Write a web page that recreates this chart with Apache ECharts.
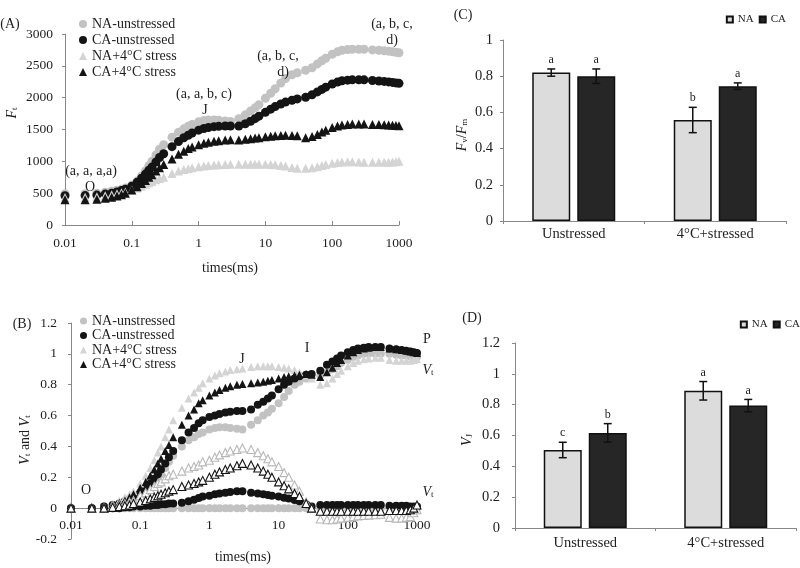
<!DOCTYPE html>
<html lang="en">
<head>
<meta charset="UTF-8">
<title>OJIP transients, Fv/Fm and VJ</title>
<style>
  html,body{margin:0;padding:0;background:#fff;}
  #main{width:800px;height:568px;}
</style>
</head>
<body>
<div id="main"></div>
<script src="https://cdn.jsdelivr.net/npm/echarts@6.0.0/dist/echarts.min.js"></script>
<script>
// time points (ms), shared by panels A and B
var TIME = [0.01,0.02,0.03,0.04,0.05,0.06,0.07,0.08,
  0.1,0.12,0.14,0.16,0.18,0.2,0.23,0.26,0.3,
  0.4,0.5,0.6,0.7,0.8,1,1.2,1.4,1.7,2,2.5,3,
  4,5,6,7,8,10,12,14,17,20,25,30,
  40,50,60,70,80,100,120,140,170,200,250,300,
  400,500,600,700,800,900,1000];

// (A) Ft
var ftNAu = [490,490,500,515,530,545,560,580,
  630,690,770,850,930,1000,1100,1190,1260,
  1380,1455,1510,1550,1580,1620,1640,1650,1650,1645,1635,1625,
  1670,1730,1790,1840,1890,1990,2070,2140,2230,2300,2360,2390,
  2430,2470,2530,2580,2620,2680,2720,2745,2755,2760,2760,2760,
  2750,2745,2735,2730,2720,2712,2705];
var ftCAu = [460,462,470,485,500,520,540,560,
  610,670,735,800,860,910,990,1060,1120,
  1230,1310,1370,1410,1445,1490,1515,1530,1545,1550,1555,1555,
  1555,1590,1630,1670,1710,1770,1820,1860,1900,1930,1960,1980,
  2005,2045,2090,2130,2165,2215,2245,2265,2275,2280,2280,2280,
  2270,2262,2255,2248,2240,2232,2225];
var ftNA4 = [430,435,445,460,475,490,505,520,
  550,580,610,640,665,685,710,730,750,
  810,850,870,885,900,915,925,935,942,948,952,955,
  955,955,955,955,955,955,950,945,935,925,905,890,
  890,900,915,935,950,970,980,988,993,995,990,985,
  985,985,985,985,990,995,1000];
var ftCA4 = [395,395,405,420,435,455,475,500,
  550,600,650,700,750,790,850,900,950,
  1035,1110,1160,1200,1225,1260,1285,1300,1315,1325,1335,1340,
  1335,1345,1355,1365,1372,1385,1395,1400,1405,1408,1405,1400,
  1370,1390,1420,1460,1490,1530,1555,1570,1580,1585,1588,1588,
  1580,1578,1575,1570,1565,1562,1560];

// (B) Vt
var vtNAu = [0,0,0.01,0.02,0.03,0.04,0.05,0.06,
  0.08,0.1,0.13,0.16,0.19,0.22,0.26,0.3,0.34,
  0.4,0.44,0.46,0.48,0.49,0.51,0.52,0.525,0.525,0.52,0.515,0.51,
  0.54,0.57,0.6,0.62,0.645,0.68,0.72,0.76,0.8,0.82,0.84,0.85,
  0.86,0.88,0.9,0.92,0.94,0.96,0.98,0.99,1,1,1,1,
  1,0.995,0.99,0.99,0.985,0.98,0.98];
var vtCAu = [0,0,0.01,0.02,0.03,0.045,0.06,0.075,
  0.1,0.13,0.16,0.19,0.22,0.25,0.29,0.33,0.37,
  0.44,0.49,0.52,0.55,0.57,0.59,0.6,0.61,0.62,0.625,0.63,0.63,
  0.64,0.67,0.69,0.71,0.73,0.77,0.8,0.82,0.84,0.855,0.865,0.87,
  0.89,0.93,0.95,0.97,0.99,1.01,1.025,1.035,1.04,1.045,1.045,1.045,
  1.035,1.03,1.025,1.02,1.015,1.01,1.005];
var vtNA4 = [0,0,0.01,0.03,0.05,0.07,0.09,0.11,
  0.16,0.21,0.26,0.31,0.36,0.4,0.46,0.51,0.57,
  0.65,0.71,0.75,0.78,0.81,0.84,0.86,0.875,0.885,0.895,0.9,0.905,
  0.915,0.92,0.92,0.92,0.92,0.915,0.91,0.905,0.895,0.88,0.86,0.84,
  0.8,0.81,0.84,0.87,0.89,0.92,0.94,0.955,0.965,0.97,0.975,0.975,
  0.96,0.955,0.955,0.955,0.955,0.96,0.965];
var vtCA4 = [0,0,0.01,0.02,0.035,0.05,0.07,0.09,
  0.13,0.17,0.21,0.25,0.29,0.32,0.37,0.41,0.46,
  0.54,0.6,0.64,0.68,0.7,0.73,0.75,0.765,0.78,0.79,0.8,0.805,
  0.81,0.815,0.82,0.825,0.83,0.84,0.85,0.855,0.86,0.865,0.87,0.865,
  0.85,0.88,0.91,0.94,0.96,0.99,1.01,1.025,1.035,1.04,1.045,1.045,
  1.035,1.03,1.025,1.02,1.015,1.01,1.005];

// (B) difference curves
var dvNAu = [0,0,0,0,0,0,0,0,
  0,0,0,0,0,0,0,0,0,
  0,0,0,0,0,0,0,0,0,0,0,0,
  0,0,0,0,0,0,0,0,0,0,0,0,
  0,0,0,0,0,0,0,0,0,0,0,0,
  0,0,0,0,0,0,0];
var dvCAu = [0,0,0,0,0,0.005,0.005,0.01,
  0.01,0.015,0.015,0.02,0.02,0.025,0.025,0.03,0.03,
  0.035,0.045,0.055,0.065,0.075,0.08,0.09,0.095,0.1,0.105,0.11,0.11,
  0.1,0.095,0.09,0.085,0.08,0.075,0.068,0.062,0.053,0.045,0.025,0.01,
  0.02,0.02,0.02,0.02,0.02,0.02,0.02,0.02,0.02,0.02,0.02,0.02,
  0.015,0.015,0.015,0.015,0.01,0.01,0.01];
var dvNA4 = [0,0,0,0.01,0.02,0.03,0.04,0.05,
  0.08,0.1,0.12,0.14,0.16,0.17,0.19,0.21,0.22,
  0.24,0.26,0.27,0.28,0.3,0.31,0.33,0.345,0.36,0.37,0.38,0.39,
  0.38,0.36,0.34,0.32,0.3,0.27,0.23,0.2,0.15,0.11,0.04,0,
  -0.07,-0.075,-0.075,-0.07,-0.065,-0.06,-0.055,-0.05,-0.048,-0.045,-0.043,-0.04,
  -0.06,-0.065,-0.065,-0.06,-0.055,-0.03,-0.01];
var dvCA4 = [0,0,0,0.005,0.01,0.015,0.02,0.03,
  0.04,0.05,0.06,0.07,0.08,0.09,0.1,0.11,0.12,
  0.14,0.15,0.16,0.17,0.18,0.2,0.22,0.235,0.25,0.26,0.275,0.29,
  0.28,0.26,0.24,0.22,0.2,0.17,0.145,0.125,0.095,0.075,0.03,0,
  -0.02,-0.02,-0.02,-0.02,-0.02,-0.02,-0.02,-0.02,-0.02,-0.02,-0.02,-0.02,
  -0.015,-0.015,-0.015,-0.015,-0.01,0,0.02];

// (C) Fv/Fm and (D) VJ
var groups = ['Unstressed', '4°C+stressed'];
var fvfmNA = [0.82, 0.558], fvfmNAErr = [0.02, 0.07], fvfmNALet = ['a', 'b'];
var fvfmCA = [0.80, 0.745], fvfmCAErr = [0.04, 0.018], fvfmCALet = ['a', 'a'];
var vjNA = [0.506, 0.89], vjNAErr = [0.05, 0.06], vjNALet = ['c', 'a'];
var vjCA = [0.617, 0.794], vjCAErr = [0.06, 0.04], vjCALet = ['b', 'a'];

var lineNames = ['NA-unstressed', 'CA-unstressed', 'NA+4°C stress', 'CA+4°C stress'];

var FONT = '"Liberation Serif", "Times New Roman", serif';
var AXIS_C = '#888';
var TXT_C = '#1e1e1e';
var LGRAY = '#c2c2c2', XGRAY = '#d4d4d4', BLACK = '#141414';
var BAR_W = 38, BAR_GAP = 7, CAP = 4;

function pts(vals) {
  return TIME.map(function (t, i) { return [t, vals[i]]; });
}

function plain(v) {
  return String(parseFloat(Number(v).toPrecision(6)));
}

function scat(name, vals, ax, symbol, size, color, border) {
  var s = {
    name: name, type: 'scatter', xAxisIndex: ax, yAxisIndex: ax,
    symbol: symbol, symbolSize: size, data: pts(vals),
    itemStyle: {color: color, opacity: 1}
  };
  if (border) {
    s.itemStyle.borderColor = border;
    s.itemStyle.borderWidth = 1.1;
  }
  return s;
}

function logAxis(grid, margin) {
  return {
    type: 'log', logBase: 10, min: 0.01, max: 1000, gridIndex: grid,
    axisLine: {show: true, onZero: true, lineStyle: {color: AXIS_C}},
    axisTick: {show: true, inside: true, length: 4, lineStyle: {color: AXIS_C}},
    minorTick: {show: false},
    axisLabel: {color: TXT_C, fontFamily: FONT, fontSize: 13.5, margin: margin, formatter: plain},
    splitLine: {show: false}
  };
}

function valAxis(grid, min, max, step, margin, fs) {
  return {
    type: 'value', gridIndex: grid, min: min, max: max, interval: step,
    axisLine: {show: true, lineStyle: {color: AXIS_C}},
    axisTick: {show: true, length: 3, lineStyle: {color: AXIS_C}},
    axisLabel: {color: TXT_C, fontFamily: FONT, fontSize: fs, margin: margin, formatter: plain},
    splitLine: {show: false}
  };
}

function catAxis(grid, margin) {
  return {
    type: 'category', gridIndex: grid, data: groups,
    axisLine: {show: true, lineStyle: {color: AXIS_C}},
    axisTick: {show: true, length: 3, lineStyle: {color: AXIS_C}},
    axisLabel: {color: TXT_C, fontFamily: FONT, fontSize: 14.5, margin: margin}
  };
}

function bars(name, vals, ax, fill) {
  return {
    name: name, type: 'bar', xAxisIndex: ax, yAxisIndex: ax, data: vals,
    barWidth: BAR_W, barGap: (BAR_GAP / BAR_W * 100) + '%',
    itemStyle: {color: fill, borderColor: '#111', borderWidth: 1.5}
  };
}

function errs(name, vals, err, letters, ax, side) {
  return {
    name: name, type: 'custom', xAxisIndex: ax, yAxisIndex: ax,
    data: vals.map(function (v, i) { return [i, v, err[i]]; }),
    encode: {x: 0, y: 1}, z: 5,
    renderItem: function (params, api) {
      var i = api.value(0), m = api.value(1), e = api.value(2);
      var x = api.coord([i, m])[0] + side * (BAR_W + BAR_GAP) / 2;
      var yt = api.coord([i, m + e])[1];
      var yb = api.coord([i, m - e])[1];
      var st = {stroke: '#111', lineWidth: 1.5};
      return {type: 'group', children: [
        {type: 'line', shape: {x1: x, y1: yt, x2: x, y2: yb}, style: st},
        {type: 'line', shape: {x1: x - CAP, y1: yt, x2: x + CAP, y2: yt}, style: st},
        {type: 'line', shape: {x1: x - CAP, y1: yb, x2: x + CAP, y2: yb}, style: st},
        {type: 'text', x: x, y: yt - 3, style: {text: letters[params.dataIndex], fill: TXT_C,
          font: '12px ' + FONT, align: 'center', verticalAlign: 'bottom'}}
      ]};
    }
  };
}

var sub = {
  i: {fontStyle: 'italic', fontFamily: FONT, fontSize: 14, fill: TXT_C},
  s: {fontFamily: FONT, fontSize: 9, fill: TXT_C, verticalAlign: 'bottom', padding: [5, 0, 0, 0]}
};

function txt(s, x, y, rot) {
  var g = {type: 'text', x: x, y: y, z: 10,
    style: {text: s, fill: TXT_C, font: '14px ' + FONT, align: 'center', verticalAlign: 'middle', rich: sub}};
  if (rot) g.rotation = Math.PI / 2;
  return g;
}

var chart = echarts.init(document.getElementById('main'));

var option = {
  animation: false,
  backgroundColor: '#fff',
  grid: [
    {left: 65, top: 34, width: 334, height: 191, outerBoundsMode: 'none'},
    {left: 71, top: 323, width: 346, height: 216, outerBoundsMode: 'none'},
    {left: 503, top: 40, width: 283, height: 181, outerBoundsMode: 'none'},
    {left: 515, top: 343, width: 281, height: 185, outerBoundsMode: 'none'}
  ],
  // panel B labels sit just under the zero line, so pull them up from the grid edge
  xAxis: [logAxis(0, 11), logAxis(1, -21), catAxis(2, 6), catAxis(3, 8)],
  yAxis: [
    valAxis(0, 0, 3000, 500, 12, 13.5),
    valAxis(1, -0.2, 1.2, 0.2, 14, 13.5),
    valAxis(2, 0, 1, 0.2, 10, 14.5),
    valAxis(3, 0, 1.2, 0.2, 15, 14.5)
  ],
  legend: [
    {orient: 'vertical', left: 79, top: 17, padding: 0, itemWidth: 8, itemHeight: 8, itemGap: 2,
      data: lineNames, textStyle: {fontFamily: FONT, fontSize: 14, lineHeight: 14, color: TXT_C}},
    {orient: 'vertical', left: 80, top: 314, padding: 0, itemWidth: 7, itemHeight: 7, itemGap: 0.5,
      data: lineNames, textStyle: {fontFamily: FONT, fontSize: 14, lineHeight: 14, color: TXT_C}},
    {orient: 'horizontal', right: 14, top: 14, padding: 0, itemWidth: 6, itemHeight: 6, itemGap: 5, icon: 'rect',
      data: ['NA', 'CA'], textStyle: {fontFamily: FONT, fontSize: 11, color: TXT_C}},
    {orient: 'horizontal', right: 0, top: 319, padding: 0, itemWidth: 6, itemHeight: 6, itemGap: 5, icon: 'rect',
      data: ['NA', 'CA'], textStyle: {fontFamily: FONT, fontSize: 11, color: TXT_C}}
  ],
  series: [
    scat(lineNames[0], ftNAu, 0, 'circle', 9, LGRAY),
    scat(lineNames[1], ftCAu, 0, 'circle', 9, BLACK),
    scat(lineNames[2], ftNA4, 0, 'triangle', 9, XGRAY),
    scat(lineNames[3], ftCA4, 0, 'triangle', 9, BLACK),

    scat(lineNames[0], vtNAu, 1, 'circle', 8, LGRAY),
    scat(lineNames[1], vtCAu, 1, 'circle', 8, BLACK),
    scat(lineNames[2], vtNA4, 1, 'triangle', 8, XGRAY),
    scat(lineNames[3], vtCA4, 1, 'triangle', 8, BLACK),
    scat('dV NA-unstressed', dvNAu, 1, 'circle', 8, LGRAY),
    scat('dV CA-unstressed', dvCAu, 1, 'circle', 8, BLACK),
    scat('dV NA+4°C stress', dvNA4, 1, 'triangle', 8, '#fff', '#b8b8b8'),
    scat('dV CA+4°C stress', dvCA4, 1, 'triangle', 8, '#fff', BLACK),

    bars('NA', fvfmNA, 2, '#dcdcdc'),
    bars('CA', fvfmCA, 2, '#262626'),
    errs('NA err C', fvfmNA, fvfmNAErr, fvfmNALet, 2, -1),
    errs('CA err C', fvfmCA, fvfmCAErr, fvfmCALet, 2, 1),

    bars('NA', vjNA, 3, '#dcdcdc'),
    bars('CA', vjCA, 3, '#262626'),
    errs('NA err D', vjNA, vjNAErr, vjNALet, 3, -1),
    errs('CA err D', vjCA, vjCAErr, vjCALet, 3, 1)
  ],
  graphic: [
    txt('(A)', 10, 24), txt('(B)', 22, 324), txt('(C)', 463, 15), txt('(D)', 472, 318),
    txt('(a, a, a,a)', 91, 171), txt('O', 90, 187),
    txt('(a, a, b, c)', 204, 94), txt('J', 205, 110),
    txt('(a, b, c,', 278, 56), txt('d)', 283, 72),
    txt('(a, b, c,', 392, 24), txt('d)', 392, 40),
    txt('O', 86, 490), txt('J', 242, 359), txt('I', 307, 348), txt('P', 427, 339),
    txt('{i|V}{s|t}', 428, 370), txt('{i|V}{s|t}', 428, 492),
    txt('times(ms)', 230, 268), txt('times(ms)', 243, 557),
    txt('{i|F}{s|t}', 12, 113, true),
    txt('{i|V}{s|t} and {i|V}{s|t}', 25, 440, true),
    txt('{i|F}{s|v}/{i|F}{s|m}', 462, 135, true),
    txt('{i|V}{s|J}', 467, 440, true)
  ]
};

chart.setOption(option);
</script>
</body>
</html>
